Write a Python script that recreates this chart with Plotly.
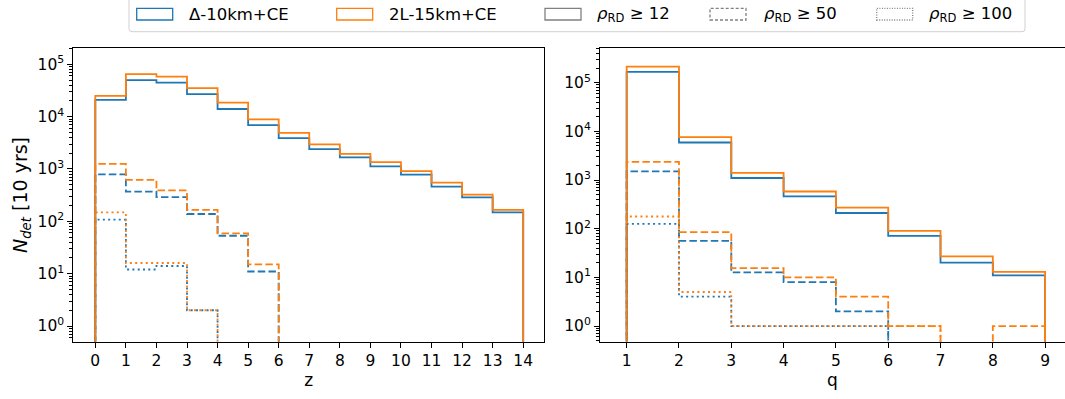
import plotly.graph_objects as go

# ---------------- data ----------------
z_edges = list(range(0, 15))
q_edges = list(range(1, 10))

# left panel (z), 14 bins
z_delta_12 = [21000, 50000, 44500, 27000, 14000, 6900, 3900, 2400, 1660, 1120, 780, 460, 288, 148]
z_2l_12 = [25000, 65000, 58000, 35000, 18500, 8900, 4900, 2960, 1950, 1350, 910, 550, 324, 166]
z_delta_50 = [790, 370, 290, 138, 53, 11, 0, 0, 0, 0, 0, 0, 0, 0]
z_2l_50 = [1250, 620, 390, 166, 59, 15, 0, 0, 0, 0, 0, 0, 0, 0]
z_delta_100 = [108, 12, 14, 2, 0, 0, 0, 0, 0, 0, 0, 0, 0, 0]
z_2l_100 = [148, 16, 16, 2, 0, 0, 0, 0, 0, 0, 0, 0, 0, 0]

# right panel (q), 8 bins
q_delta_12 = [166000, 5900, 1100, 460, 210, 71, 20, 11]
q_2l_12 = [213000, 7600, 1400, 580, 270, 90, 27, 13]
q_delta_50 = [1500, 56, 12.6, 8, 2, 0, 0, 0]
q_2l_50 = [2350, 85, 15.5, 10, 4, 1, 0, 1]
q_delta_100 = [126, 4, 1, 1, 1, 0, 0, 0]
q_2l_100 = [178, 5, 1, 1, 1, 1, 0, 0]

y_tick_vals = [1, 10, 100, 1000, 10000, 100000]
y_tick_text = ["10<sup>0</sup>", "10<sup>1</sup>", "10<sup>2</sup>",
               "10<sup>3</sup>", "10<sup>4</sup>", "10<sup>5</sup>"]

legend_labels = ["Δ-10km+CE", "2L-15km+CE",
                 "<i>ρ</i><sub>RD</sub> ≥ 12",
                 "<i>ρ</i><sub>RD</sub> ≥ 50",
                 "<i>ρ</i><sub>RD</sub> ≥ 100"]

# ---------------- style ----------------
BLUE = "#1f77b4"
ORANGE = "#ff7f0e"
GRAY = "#808080"
FONT = "DejaVu Sans"
W, H = 1065, 399
FLOOR = 1e-4
DASH = {"solid": "solid", "dash": "7.5px,3.2px", "dot": "2px,3.3px"}


def step_xy(edges, vals):
    xs, ys = [edges[0]], [FLOOR]
    for i, v in enumerate(vals):
        vv = v if v > 0 else FLOOR
        xs += [edges[i], edges[i + 1]]
        ys += [vv, vv]
    xs.append(edges[-1])
    ys.append(FLOOR)
    return xs, ys


fig = go.Figure()

panels = [
    ("x", "y", z_edges, [(z_delta_12, z_2l_12, "solid"), (z_delta_50, z_2l_50, "dash"),
                         (z_delta_100, z_2l_100, "dot")]),
    ("x2", "y2", q_edges, [(q_delta_12, q_2l_12, "solid"), (q_delta_50, q_2l_50, "dash"),
                           (q_delta_100, q_2l_100, "dot")]),
]
for xa, ya, edges, sets in panels:
    for dvals, lvals, style in sets:
        for vals, col in ((dvals, BLUE), (lvals, ORANGE)):
            xs, ys = step_xy(edges, vals)
            fig.add_trace(go.Scatter(
                x=xs, y=ys, xaxis=xa, yaxis=ya, mode="lines",
                line=dict(color=col, width=1.8, dash=DASH[style]),
                showlegend=False, hoverinfo="skip"))


def px(x):
    return x / W


def py(y):
    return 1 - y / H


minor_vals = [m * 10 ** e for e in range(-1, 6) for m in range(2, 10)]

TICK_SIZE = 15.5
common_x = dict(showline=True, mirror=True, linecolor="black", linewidth=1,
                ticks="outside", ticklen=5, tickwidth=1, tickcolor="black",
                showgrid=False, zeroline=False,
                tickfont=dict(family=FONT, size=TICK_SIZE, color="black"),
                title_font=dict(family=FONT, size=17, color="black"),
                title_standoff=4)
common_y = dict(type="log", showline=True, mirror=True, linecolor="black", linewidth=1,
                ticks="outside", ticklen=5, tickwidth=1, tickcolor="black",
                showgrid=False, zeroline=False,
                tickmode="array", tickvals=y_tick_vals, ticktext=y_tick_text,
                tickfont=dict(family=FONT, size=TICK_SIZE, color="black"),
                minor=dict(ticks="outside", ticklen=3, tickwidth=0.8, tickcolor="black",
                           tickmode="array", tickvals=minor_vals, showgrid=False))

ydom = [py(341.7), py(48.3)]
fig.update_layout(
    width=W, height=H,
    margin=dict(l=0, r=0, t=0, b=0),
    paper_bgcolor="white", plot_bgcolor="white",
    font=dict(family=FONT, size=15, color="black"),
    showlegend=False,
    xaxis=dict(domain=[px(73.3), px(544)], range=[-0.72, 14.68],
               tickmode="array", tickvals=z_edges, title_text="z", **common_x),
    yaxis=dict(domain=ydom, range=[-0.30, 5.306],
               title=dict(text="<i>N</i><sub><i>det</i></sub> [10 yrs]",
                          font=dict(family=FONT, size=19, color="black"), standoff=4),
               **common_y),
    xaxis2=dict(domain=[px(600), 1.0], range=[0.49, 9.38], anchor="y2",
                tickmode="array", tickvals=q_edges, title_text="q", **common_x),
    yaxis2=dict(domain=ydom, range=[-0.322, 5.706], anchor="x2", **common_y),
)

# ---------------- manual legend (matplotlib-style patches) ----------------
shapes = []
x0, x1, yt, yb, r = 129, 1025, -4, 31.7, 3
path = (f"M {px(x0 + r)},{py(yt)} L {px(x1 - r)},{py(yt)} "
        f"Q {px(x1)},{py(yt)} {px(x1)},{py(yt + r)} L {px(x1)},{py(yb - r)} "
        f"Q {px(x1)},{py(yb)} {px(x1 - r)},{py(yb)} L {px(x0 + r)},{py(yb)} "
        f"Q {px(x0)},{py(yb)} {px(x0)},{py(yb - r)} L {px(x0)},{py(yt + r)} "
        f"Q {px(x0)},{py(yt)} {px(x0 + r)},{py(yt)} Z")
shapes.append(dict(type="path", xref="paper", yref="paper", path=path,
                   line=dict(color="#d0d0d0", width=1), fillcolor="rgba(255,255,255,0.8)"))

patch_x = [136.7, 336.7, 545, 710, 876.7]
text_x = [187, 387, 595, 762, 927]
patch_col = [BLUE, ORANGE, GRAY, GRAY, GRAY]
patch_dash = ["solid", "solid", "solid", "3px,2px", "1px,1.5px"]
for i, lab in enumerate(legend_labels):
    shapes.append(dict(type="rect", xref="paper", yref="paper",
                       x0=px(patch_x[i]), x1=px(patch_x[i] + 36),
                       y0=py(20), y1=py(8.3),
                       line=dict(color=patch_col[i], width=1.3, dash=patch_dash[i]),
                       fillcolor="rgba(0,0,0,0)"))
    fig.add_annotation(x=px(text_x[i]), y=py(14.5), xref="paper", yref="paper",
                       text=lab, showarrow=False, xanchor="left", yanchor="middle",
                       font=dict(family=FONT, size=16.5, color="black"))

fig.update_layout(shapes=shapes)

fig.write_html("out.html")
